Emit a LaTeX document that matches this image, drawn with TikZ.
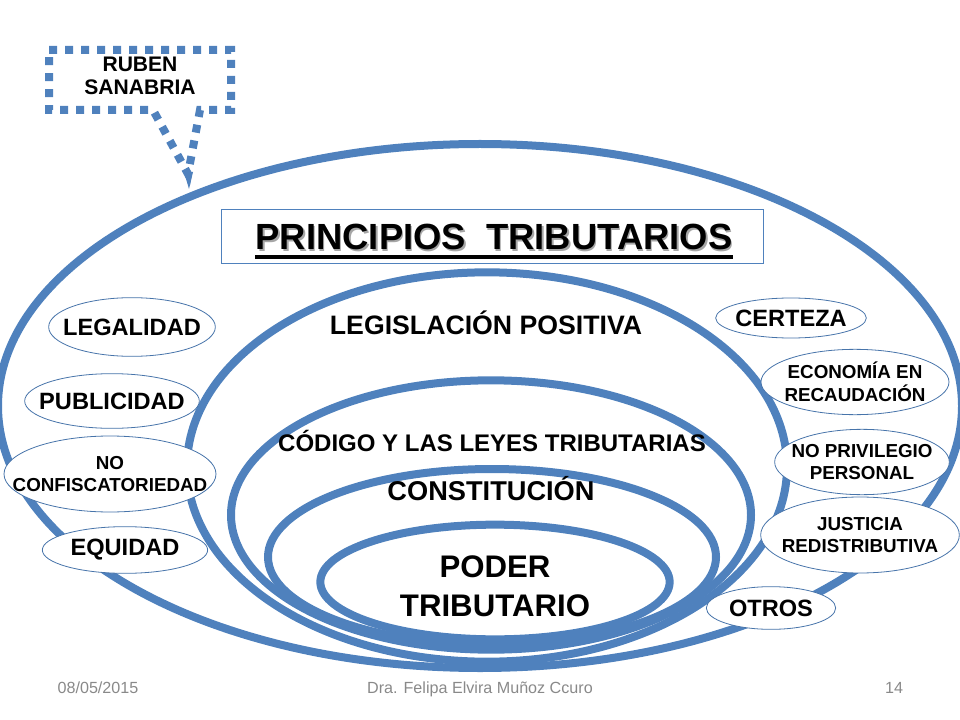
\documentclass[tikz,border=0pt]{standalone}
\usepackage{fontspec}
\setmainfont{Liberation Sans}
\usetikzlibrary{shapes.geometric}
\definecolor{ringblue}{HTML}{4F81BD}
\definecolor{footgray}{HTML}{898989}
\tikzset{
  ring/.style={draw=ringblue,line width=6pt,ellipse,inner sep=0pt,fill=none},
  tag/.style={draw=ringblue!90!black,line width=0.6pt,ellipse,inner sep=0pt,fill=white},
  tagtext/.style={inner sep=0pt,align=center,font=\bfseries\fontsize{17.7}{20}\selectfont},
  smalltext/.style={inner sep=0pt,align=center,font=\bfseries\fontsize{14.1}{17}\selectfont},
  head/.style={inner sep=0pt,align=center,font=\bfseries\fontsize{18}{20}\selectfont},
  foot/.style={inner sep=0pt,anchor=base,text=footgray,font=\fontsize{12.1}{14}\selectfont},
  callout/.style={draw=ringblue,line width=6pt,dash pattern=on 6pt off 6pt,line join=miter},
}
\begin{document}
\begin{tikzpicture}[x=0.75pt,y=-0.75pt]
\useasboundingbox (0,0) rectangle (960,720);
\clip (0,0) rectangle (960,720);
\node[ring,minimum width=723pt,minimum height=393pt] (outer) at (480,406) {};
\node[ring,minimum width=450pt,minimum height=292pt] (legis) at (487,467) {};
\node[ring,minimum width=390pt,minimum height=202pt] (codigo) at (491,515) {};
\node[ring,minimum width=336pt,minimum height=132pt] (consti) at (492,557) {};
\node[ring,minimum width=262pt,minimum height=86pt] (poder) at (495,582) {};
% callout
\coordinate (ca) at (49,50);
\coordinate (cb) at (231,50);
\coordinate (cc) at (231,110);
\coordinate (cd) at (200,110);
\coordinate (ce) at (188,174);
\coordinate (cf) at (153,110);
\coordinate (cg) at (49,110);
\draw[callout] (ca) -- (cb) -- (cc) -- (cd) -- (ce) -- (cf) -- (cg) -- cycle;
\coordinate (tipa) at (184,172);
\coordinate (tipb) at (193,172);
\coordinate (tipc) at (189,189);
\fill[ringblue] (tipa) -- (tipb) -- (tipc) -- cycle;
\node[inner sep=0pt,align=center,font=\bfseries\fontsize{15.8}{17.6}\selectfont] (ruben) at (140,76) {RUBEN\\SANABRIA};
% title
\node[draw=ringblue,line width=0.75pt,fill=white,minimum width=406pt,minimum height=41pt,inner sep=0pt] (titlebox) at (492.5,236.5) {};
\node[inner sep=0pt,text=black!35,font=\bfseries\fontsize{27.3}{30}\selectfont] (titleshadow) at (495.5,238.5) {PRINCIPIOS\ \ TRIBUTARIOS};
\node[inner sep=0pt,font=\bfseries\fontsize{27.3}{30}\selectfont] (titletext) at (494,237) {PRINCIPIOS\ \ TRIBUTARIOS};
\coordinate (ula) at (255,257);
\coordinate (ulb) at (733,257);
\draw[line width=2.8pt,black] (ula) -- (ulb);
% headings
\node[head,font=\bfseries\fontsize{20}{24}\selectfont] (h1) at (486,323) {LEGISLACIÓN POSITIVA};
\node[head] (h2) at (492,441) {CÓDIGO Y LAS LEYES TRIBUTARIAS};
\node[head,font=\bfseries\fontsize{20.4}{22}\selectfont] (h3) at (491,489) {CONSTITUCIÓN};
\node[head,font=\bfseries\fontsize{23.4}{29.5}\selectfont] (h4) at (495,586) {PODER\\TRIBUTARIO};
% left tags
\node[tag,minimum width=125pt,minimum height=44pt] (t1) at (132,327) {};
\node[tagtext] (x1) at (t1) {LEGALIDAD};
\node[tag,minimum width=131pt,minimum height=41pt] (t2) at (112,401) {};
\node[tagtext] (x2) at (t2) {PUBLICIDAD};
\node[tag,minimum width=159pt,minimum height=57pt] (t3) at (110,474) {};
\node[smalltext] (x3) at (t3) {NO\\CONFISCATORIEDAD};
\node[tag,minimum width=124pt,minimum height=35pt] (t4) at (125,550) {};
\node[tagtext] (x4) at (t4) {EQUIDAD};
% right tags
\node[tag,minimum width=113pt,minimum height=30pt] (t5) at (791,318) {};
\node[tagtext] (x5) at (t5) {CERTEZA};
\node[tag,minimum width=141pt,minimum height=49pt] (t6) at (855,382) {};
\node[smalltext] (x6) at (t6) {ECONOMÍA EN\\RECAUDACIÓN};
\node[tag,minimum width=131pt,minimum height=49pt] (t7) at (862,462) {};
\node[smalltext] (x7) at (t7) {NO PRIVILEGIO\\PERSONAL};
\node[tag,minimum width=149pt,minimum height=57pt] (t8) at (860,535) {};
\node[smalltext] (x8) at (t8) {JUSTICIA\\REDISTRIBUTIVA};
\node[tag,minimum width=97pt,minimum height=32pt] (t9) at (771,608) {};
\node[tagtext] (x9) at (t9) {OTROS};
% footer
\node[foot] (f1) at (98,693) {08/05/2015};
\node[foot] (f2) at (480,693) {Dra. Felipa  Elvira Muñoz Ccuro};
\node[foot] (f3) at (894,693) {14};
\end{tikzpicture}
\end{document}
